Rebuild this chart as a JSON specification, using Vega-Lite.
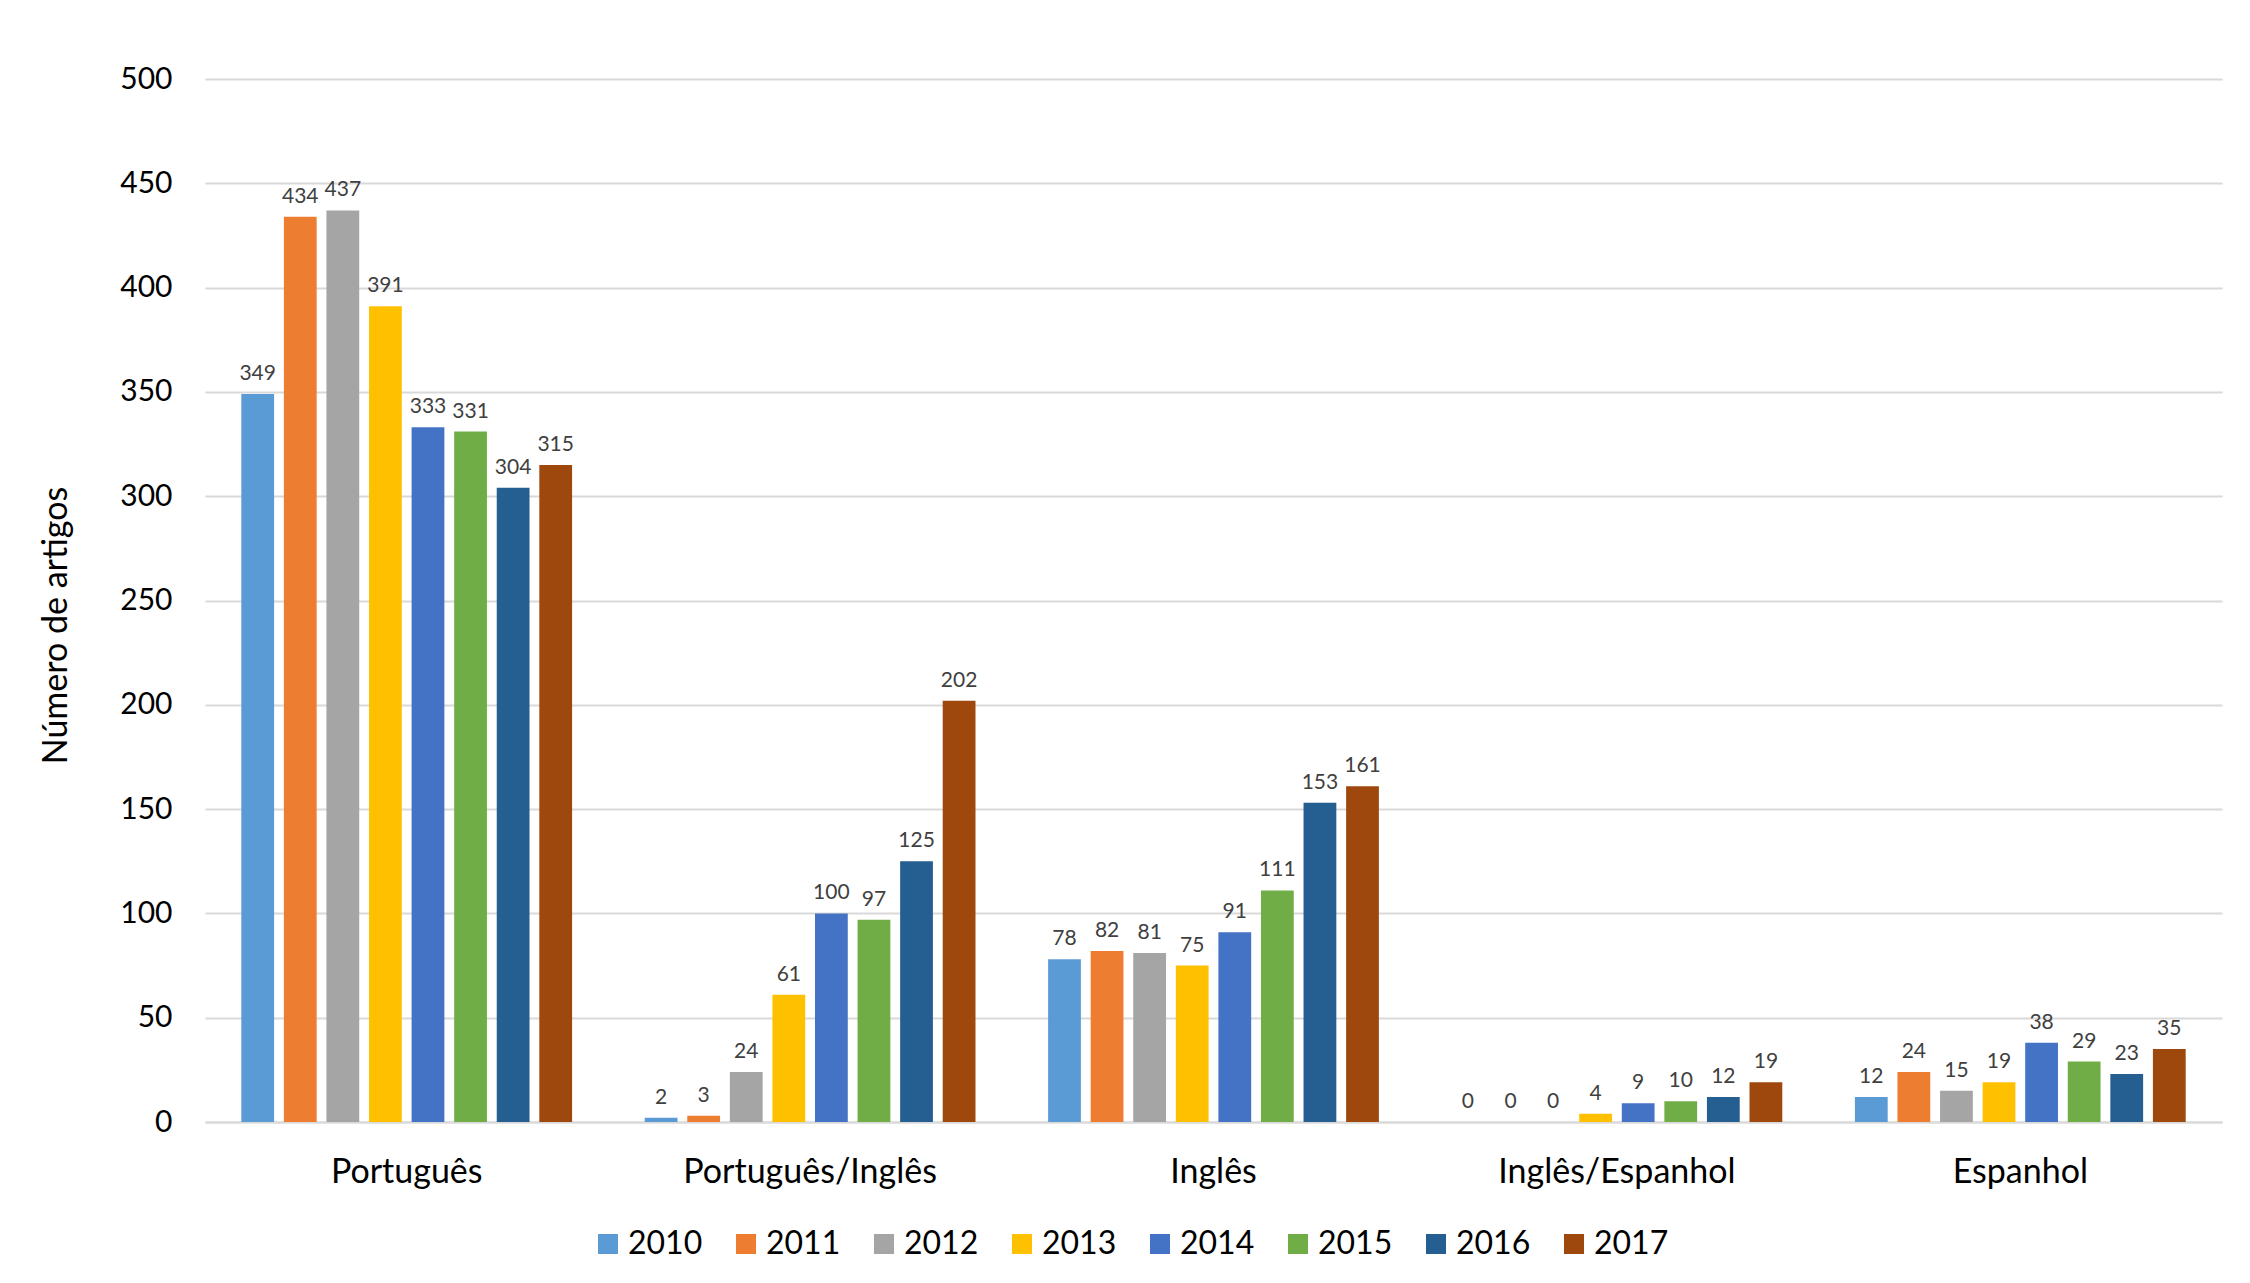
{
  "$schema": "https://vega.github.io/schema/vega-lite/v6.json",
  "autosize": "none",
  "width": 2017,
  "height": 1043,
  "padding": {"left": 205, "top": 79, "right": 28, "bottom": 161},
  "background": "white",
  "config": {"view": {"stroke": null}, "font": "Lato"},
  "data": {
    "values": [
      {"idioma": "Português", "ano": "2010", "artigos": 349},
      {"idioma": "Português", "ano": "2011", "artigos": 434},
      {"idioma": "Português", "ano": "2012", "artigos": 437},
      {"idioma": "Português", "ano": "2013", "artigos": 391},
      {"idioma": "Português", "ano": "2014", "artigos": 333},
      {"idioma": "Português", "ano": "2015", "artigos": 331},
      {"idioma": "Português", "ano": "2016", "artigos": 304},
      {"idioma": "Português", "ano": "2017", "artigos": 315},
      {"idioma": "Português/Inglês", "ano": "2010", "artigos": 2},
      {"idioma": "Português/Inglês", "ano": "2011", "artigos": 3},
      {"idioma": "Português/Inglês", "ano": "2012", "artigos": 24},
      {"idioma": "Português/Inglês", "ano": "2013", "artigos": 61},
      {"idioma": "Português/Inglês", "ano": "2014", "artigos": 100},
      {"idioma": "Português/Inglês", "ano": "2015", "artigos": 97},
      {"idioma": "Português/Inglês", "ano": "2016", "artigos": 125},
      {"idioma": "Português/Inglês", "ano": "2017", "artigos": 202},
      {"idioma": "Inglês", "ano": "2010", "artigos": 78},
      {"idioma": "Inglês", "ano": "2011", "artigos": 82},
      {"idioma": "Inglês", "ano": "2012", "artigos": 81},
      {"idioma": "Inglês", "ano": "2013", "artigos": 75},
      {"idioma": "Inglês", "ano": "2014", "artigos": 91},
      {"idioma": "Inglês", "ano": "2015", "artigos": 111},
      {"idioma": "Inglês", "ano": "2016", "artigos": 153},
      {"idioma": "Inglês", "ano": "2017", "artigos": 161},
      {"idioma": "Inglês/Espanhol", "ano": "2010", "artigos": 0},
      {"idioma": "Inglês/Espanhol", "ano": "2011", "artigos": 0},
      {"idioma": "Inglês/Espanhol", "ano": "2012", "artigos": 0},
      {"idioma": "Inglês/Espanhol", "ano": "2013", "artigos": 4},
      {"idioma": "Inglês/Espanhol", "ano": "2014", "artigos": 9},
      {"idioma": "Inglês/Espanhol", "ano": "2015", "artigos": 10},
      {"idioma": "Inglês/Espanhol", "ano": "2016", "artigos": 12},
      {"idioma": "Inglês/Espanhol", "ano": "2017", "artigos": 19},
      {"idioma": "Espanhol", "ano": "2010", "artigos": 12},
      {"idioma": "Espanhol", "ano": "2011", "artigos": 24},
      {"idioma": "Espanhol", "ano": "2012", "artigos": 15},
      {"idioma": "Espanhol", "ano": "2013", "artigos": 19},
      {"idioma": "Espanhol", "ano": "2014", "artigos": 38},
      {"idioma": "Espanhol", "ano": "2015", "artigos": 29},
      {"idioma": "Espanhol", "ano": "2016", "artigos": 23},
      {"idioma": "Espanhol", "ano": "2017", "artigos": 35}
    ]
  },
  "encoding": {
    "x": {
      "field": "idioma",
      "type": "nominal",
      "sort": ["Português", "Português/Inglês", "Inglês", "Inglês/Espanhol", "Espanhol"],
      "scale": {"paddingInner": 0.18, "paddingOuter": 0.09},
      "axis": {
        "title": null,
        "labelAngle": 0,
        "labelFontSize": 34,
        "labelColor": "#000000",
        "labelPadding": 33,
        "labelLimit": 0,
        "ticks": false,
        "domainColor": "#d9d9d9",
        "domainWidth": 2
      }
    },
    "xOffset": {
      "field": "ano",
      "type": "nominal",
      "scale": {"paddingInner": 0.23, "paddingOuter": 0}
    },
    "y": {
      "field": "artigos",
      "type": "quantitative",
      "scale": {"domain": [0, 500]},
      "axis": {
        "values": [0, 50, 100, 150, 200, 250, 300, 350, 400, 450, 500],
        "title": "Número de artigos",
        "titleFontSize": 34,
        "titleFontWeight": "normal",
        "titleColor": "#000000",
        "titleX": -132,
        "titleY": 546,
        "labelFontSize": 30,
        "labelPadding": 33,
        "labelColor": "#000000",
        "ticks": false,
        "domain": false,
        "gridColor": "#d9d9d9",
        "gridWidth": 2
      }
    }
  },
  "layer": [
    {
      "mark": {"type": "bar"},
      "encoding": {
        "color": {
          "field": "ano",
          "type": "nominal",
          "scale": {
            "domain": ["2010", "2011", "2012", "2013", "2014", "2015", "2016", "2017"],
            "range": ["#5B9BD5", "#ED7D31", "#A5A5A5", "#FFC000", "#4472C4", "#70AD47", "#255E91", "#9E480E"]
          },
          "legend": {
            "title": null,
            "orient": "none",
            "direction": "horizontal",
            "legendX": 387,
            "legendY": 1149,
            "symbolType": "square",
            "symbolSize": 400,
            "symbolStrokeWidth": 0,
            "labelFontSize": 32,
            "labelColor": "#000000",
            "labelOffset": 4,
            "columnPadding": 27,
            "padding": 0
          }
        }
      }
    },
    {
      "mark": {"type": "text", "baseline": "bottom", "dy": -10, "fontSize": 21, "color": "#404040"},
      "encoding": {"text": {"field": "artigos", "type": "quantitative"}}
    }
  ]
}
